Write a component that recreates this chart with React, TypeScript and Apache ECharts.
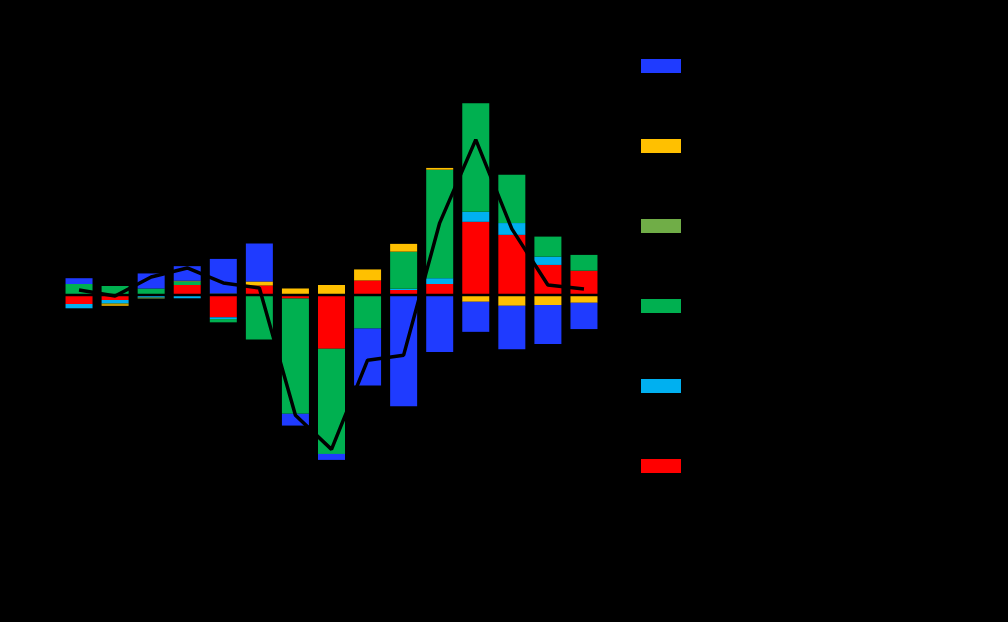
import React, { useEffect, useRef } from "react";
import * as echarts from "echarts";

const categories = ["2009", "2010", "2011", "2012", "2013", "2014", "2015", "2016", "2017", "2018", "2019", "2020", "2021", "2022", "2023"];

const seriesNames = ["Series 1", "Series 2", "Series 3", "Series 4", "Series 5", "Series 6"];
const totalName = "Total";

// values (stack order from zero outward: red, light blue, green, light green, orange, blue)
const redValues = [-0.38, -0.22, 0, 0.38, -0.91, 0.36, -0.16, -2.16, 0.56, 0.18, 0.42, 2.9, 2.38, 1.18, 0.95];
const lightBlueValues = [-0.17, -0.13, -0.12, -0.15, -0.07, 0, 0, 0, 0, 0.05, 0.23, 0.4, 0.47, 0.33, 0];
const greenValues = [0.42, 0.34, 0.24, 0.13, -0.13, -1.8, -4.6, -4.2, -1.36, 1.48, 4.33, 4.33, 1.93, 0.8, 0.63];
const lightGreenValues = [0, -0.04, -0.04, 0.04, 0.04, 0, 0, 0, 0, 0, 0, 0, 0, 0, 0];
const orangeValues = [0, -0.06, 0, 0, 0, 0.16, 0.24, 0.38, 0.44, 0.31, 0.07, -0.29, -0.45, -0.42, -0.33];
const blueValues = [0.23, 0, 0.6, 0.58, 1.38, 1.51, -0.47, -0.24, -2.27, -4.46, -2.29, -1.2, -1.73, -1.56, -1.05];
const totalValues = [0.18, -0.06, 0.7, 1.06, 0.46, 0.26, -4.82, -6.18, -2.62, -2.42, 2.86, 6.18, 2.62, 0.38, 0.22];

const colors = {
  blue: "#1F3BFF",
  orange: "#FFC000",
  lightGreen: "#70AD47",
  green: "#00B050",
  lightBlue: "#00B0F0",
  red: "#FF0000",
};

export default function App() {
  const ref = useRef<HTMLDivElement>(null);
  useEffect(() => {
    if (!ref.current) return;
    const chart = echarts.init(ref.current, undefined, { renderer: "svg" });
    const bar = (name: string, data: number[], color: string) => ({
      name,
      type: "bar",
      stack: "total",
      data,
      barWidth: 27,
      itemStyle: { color },
      z: 2,
    });
    chart.setOption({
      animation: false,
      backgroundColor: "#000000",
      textStyle: { color: "#000000", fontFamily: "Liberation Sans" },
      grid: { left: 61, right: 406, top: 94, bottom: 127, containLabel: false },
      legend: {
        orient: "vertical",
        left: 641,
        top: 59,
        padding: 0,
        itemWidth: 40,
        itemHeight: 14,
        itemGap: 66,
        icon: "rect",
        textStyle: { color: "#000000", fontSize: 14 },
        data: [seriesNames[0], seriesNames[1], seriesNames[2], seriesNames[3], seriesNames[4], seriesNames[5]],
      },
      xAxis: {
        type: "category",
        data: categories,
        z: 10,
        axisLine: { show: true, onZero: true, lineStyle: { color: "#000000", width: 2.4 } },
        axisTick: { show: false },
        axisLabel: { color: "#000000" },
      },
      yAxis: {
        type: "value",
        min: -8,
        max: 8,
        interval: 2,
        axisLine: { show: false },
        splitLine: { show: false },
        axisLabel: { color: "#000000" },
      },
      series: [
        bar(seriesNames[5], redValues, colors.red),
        bar(seriesNames[4], lightBlueValues, colors.lightBlue),
        bar(seriesNames[3], greenValues, colors.green),
        bar(seriesNames[2], lightGreenValues, colors.lightGreen),
        bar(seriesNames[1], orangeValues, colors.orange),
        bar(seriesNames[0], blueValues, colors.blue),
        {
          name: totalName,
          type: "line",
          data: totalValues,
          symbol: "none",
          z: 20,
          lineStyle: { color: "#000000", width: 3.5 },
          itemStyle: { color: "#000000" },
        },
      ],
    });
    return () => chart.dispose();
  }, []);
  return (
    <div
      ref={ref}
      style={{ position: "fixed", left: 0, top: 0, width: 1008, height: 622, background: "#000" }}
    />
  );
}
